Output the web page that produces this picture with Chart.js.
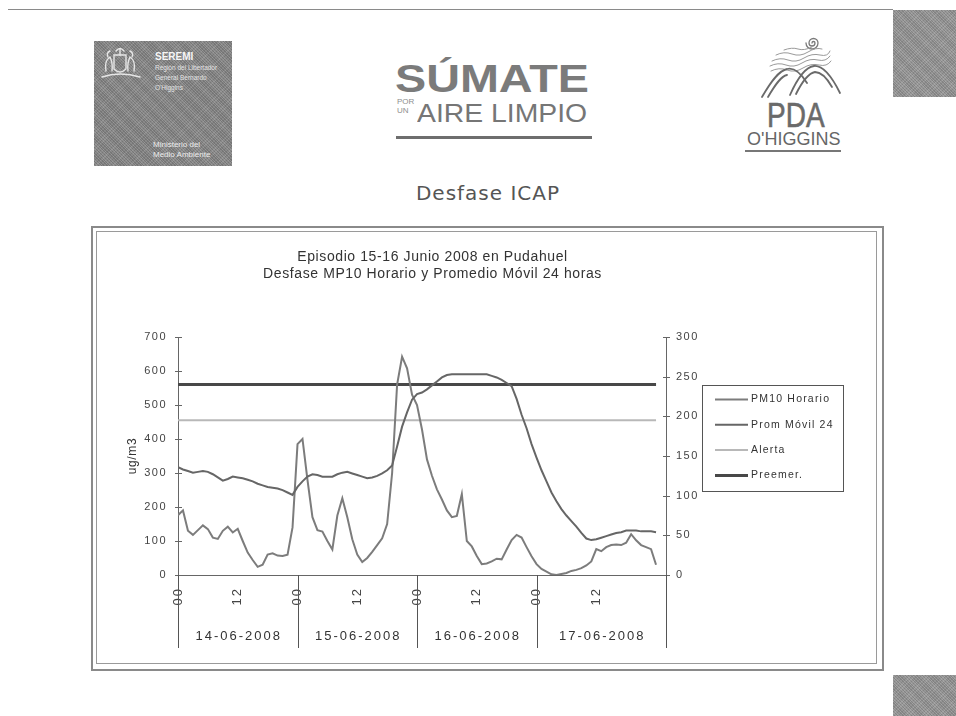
<!DOCTYPE html>
<html lang="es">
<head>
<meta charset="utf-8">
<title>Desfase ICAP</title>
<script src="https://cdn.jsdelivr.net/npm/chart.js@4.4.1/dist/chart.umd.min.js"></script>
<style>
html,body{margin:0;padding:0;background:#fff;}
body{width:956px;height:716px;position:relative;overflow:hidden;font-family:"Liberation Sans",Arial,sans-serif;}
.a{position:absolute;white-space:nowrap;}
#c{position:absolute;left:0;top:0;pointer-events:none;}
.gray{background-color:#959595;background-image:repeating-linear-gradient(45deg,rgba(255,255,255,.10) 0 1px,rgba(0,0,0,.07) 1px 2px),repeating-linear-gradient(-45deg,rgba(255,255,255,.06) 0 1px,rgba(0,0,0,.05) 1px 3px);}
</style>
</head>
<body>
<!-- slide border and corner blocks -->
<div class="a" style="left:8px;top:9px;width:885px;height:0;border-top:1px solid #8a8a8a"></div>
<div class="a gray" style="left:893px;top:10px;width:63px;height:87px"></div>
<div class="a gray" style="left:893px;top:675px;width:63px;height:41px"></div>

<!-- SEREMI logo -->
<div class="a gray" style="left:94px;top:41px;width:138px;height:125px;background-color:#868686"></div>
<svg class="a" style="left:94px;top:41px" width="60" height="50" viewBox="0 0 60 50">
  <g fill="none" stroke="#e6e6e6" stroke-width="1.4" stroke-linecap="round">
    <path d="M8,36 Q26,30 46,36"/>
    <path d="M20,14 L32,14 L32,28 Q26,34 20,28 Z"/>
    <path d="M26,8 L26,14 M22,10 Q26,5 30,10"/>
    <path d="M12,30 Q10,20 16,16 Q19,22 18,30"/>
    <path d="M40,30 Q42,20 36,16 Q33,22 34,30"/>
    <path d="M14,16 Q12,12 16,10 M38,16 Q40,12 36,10"/>
  </g>
</svg>
<div class="a" style="left:155px;top:51px;color:#f6f6f6;font:bold 10px/11px 'Liberation Sans';">SEREMI</div>
<div class="a" style="left:155px;top:63px;color:#e4e4e4;font:6.5px/10px 'Liberation Sans';">Región del Libertador<br>General Bernardo<br>O'Higgins</div>
<div class="a" style="left:153px;top:140px;color:#ececec;font:8px/10px 'Liberation Sans';">Ministerio del<br>Medio Ambiente</div>

<!-- SUMATE logo -->
<div class="a" style="left:395px;top:57px;font:bold 38px/44px 'Liberation Sans';color:#7b7b7b;transform:scaleX(1.23);transform-origin:0 0;">SÚMATE</div>
<div class="a" style="left:397px;top:97px;font:8px/9px 'Liberation Sans';color:#8e8e8e;">POR<br>UN</div>
<div class="a" style="left:417px;top:97.5px;font:26px/30px 'Liberation Sans';color:#767676;transform:scaleX(1.09);transform-origin:0 0;">AIRE LIMPIO</div>
<div class="a" style="left:396px;top:136px;width:196px;height:3px;background:#6e6e6e"></div>

<!-- PDA logo -->
<svg class="a" style="left:740px;top:25px" width="110" height="80" viewBox="0 0 110 80">
  <g fill="none" stroke="#7a7a7a" stroke-linecap="round">
    <path stroke-width="1.3" d="M73,18 m-1,0 a1.5,1.5 0 1,1 3,0 a3,3 0 1,1 -6,0 a4.5,4.5 0 1,1 9,0 a6,6 0 1,1 -12,0"/>
    <g stroke="#9a9a9a" stroke-width="1">
      <path d="M32,36 q8,-4 16,-1 t16,-2 t16,-3 t10,-4"/>
      <path d="M30,41 q8,-4 16,-1 t16,-2 t16,-3 t12,-4"/>
      <path d="M31,46 q8,-4 16,-1 t16,-2 t16,-3 t12,-4"/>
      <path d="M36,30 q8,-4 16,-1 t16,-2 t14,-3"/>
      <path d="M44,25 q8,-3 14,-1 t14,-2"/>
    </g>
    <g stroke="#6a6a6a" stroke-width="1.8">
      <path d="M22,72 C30,58 38,46 47,44 C55,42 62,50 67,58"/>
      <path d="M28,72 C35,60 41,51 47,50"/>
      <path d="M50,70 C58,52 66,42 74,41 C84,40 94,56 100,68"/>
      <path d="M56,69 C63,55 69,48 75,47 C82,47 88,55 92,62"/>
    </g>
  </g>
</svg>
<div class="a" style="left:767px;top:95px;font:35px/40px 'Liberation Sans';color:#6a6a6a;transform:scaleX(0.8);transform-origin:0 0;-webkit-text-stroke:0.6px #6a6a6a;">PDA</div>
<div class="a" style="left:747px;top:128.6px;font:18px/20px 'Liberation Sans';color:#666;">O'HIGGINS</div>
<div class="a" style="left:745px;top:150px;width:96px;height:2px;background:#777"></div>

<!-- slide heading -->
<div class="a" style="left:0;top:181px;width:976px;text-align:center;font:20px/24px 'DejaVu Sans';letter-spacing:1px;color:#555;">Desfase ICAP</div>

<!-- chart frame -->
<div class="a" style="left:91px;top:226px;width:793px;height:445px;box-sizing:border-box;border:2px solid #8a8a8a"></div>
<div class="a" style="left:96px;top:231px;width:781px;height:433px;box-sizing:border-box;border:1px solid #9a9a9a"></div>

<canvas id="c" width="956" height="716"></canvas>

<script>
// ---------- data ----------
const dias = ['14-06-2008', '15-06-2008', '16-06-2008', '17-06-2008'];
const diaLimites = [0, 24, 48, 72, 98];           // hour index of day boundaries (last = axis end)
const horaTicks = [0, 12, 24, 36, 48, 60, 72, 84];
const horaTickLabels = ['00', '12', '00', '12', '00', '12', '00', '12'];

// PM10 hourly (ug/m3), left axis, one value per hour from 14-06 00h
const pm10Horario = [
  176,190,130,118,132,146,135,110,106,130,142,125,
  136,100,66,44,24,30,60,64,57,56,60,140,
  385,400,280,170,132,128,100,75,175,226,170,105,
  60,38,50,68,88,108,150,300,560,642,608,530,
  500,428,340,292,252,222,190,170,174,238,100,84,
  56,32,34,40,48,46,75,103,118,110,82,55,
  32,18,10,2,0,3,6,12,15,20,28,40,
  76,70,82,88,90,88,95,120,102,88,82,76,
  30
];
// 24 h moving average (ug/m3), right axis
const promMovil24 = [
  136,133,131,129,130,131,130,127,123,119,121,124,
  123,122,120,118,115,113,111,110,109,107,104,101,
  111,118,124,127,126,124,124,124,127,129,130,128,
  126,124,122,123,125,128,132,138,162,187,205,221,
  228,230,234,239,244,249,252,253,253,253,253,253,
  253,253,253,251,249,246,242,238,222,202,185,165,
  148,132,118,104,93,83,75,68,61,53,46,44,
  45,47,49,51,53,54,56,56,56,55,55,55,
  54
];
const umbralHoras = [0, 96];
const alertaNivel = [195, 195];
const preemerNivel = [240, 240];

const ejeIzq = {min: 0, max: 700, step: 100};
const ejeDer = {min: 0, max: 300, step: 50};

const toXY = (arr, xs) => arr.map((v, i) => ({x: xs ? xs[i] : i, y: v}));

// ---------- plugins ----------
const spacingPlugin = {
  id: 'spacing',
  beforeDraw(chart) { chart.ctx.letterSpacing = '0.6px'; },
  afterUpdate(chart) {
    for (const id of Object.keys(chart.scales)) {
      const s = chart.scales[id];
      if (s._wrappedLabels) continue;
      const orig = s.drawLabels.bind(s);
      const sp = id === 'x' ? '2px' : '1.5px';
      s.drawLabels = function (area) {
        const ctx = this.ctx; const prev = ctx.letterSpacing;
        ctx.letterSpacing = sp; orig(area); ctx.letterSpacing = prev;
      };
      s._wrappedLabels = true;
    }
  }
};

const axisDecor = {
  id: 'axisDecor',
  afterDraw(chart) {
    const {ctx, chartArea: ca, scales: {x, y, y1}} = chart;
    ctx.save();
    ctx.strokeStyle = '#666'; ctx.lineWidth = 1;
    y.ticks.forEach(t => {
      const py = Math.round(y.getPixelForValue(t.value)) + 0.5;
      ctx.beginPath(); ctx.moveTo(ca.left - 3, py); ctx.lineTo(ca.left + 4, py); ctx.stroke();
    });
    y1.ticks.forEach(t => {
      const py = Math.round(y1.getPixelForValue(t.value)) + 0.5;
      ctx.beginPath(); ctx.moveTo(ca.right - 3, py); ctx.lineTo(ca.right + 4, py); ctx.stroke();
    });
    ctx.strokeStyle = '#555';
    diaLimites.forEach(h => {
      const px = Math.round(x.getPixelForValue(h)) + 0.5;
      ctx.beginPath(); ctx.moveTo(px, ca.bottom); ctx.lineTo(px, ca.bottom + 73); ctx.stroke();
    });
    ctx.fillStyle = '#333';
    ctx.font = '13px "Liberation Sans", Arial, sans-serif';
    ctx.letterSpacing = '2px';
    ctx.textAlign = 'center'; ctx.textBaseline = 'middle';
    dias.forEach((d, i) => {
      const cx = (x.getPixelForValue(diaLimites[i]) + x.getPixelForValue(diaLimites[i + 1])) / 2;
      ctx.fillText(d, cx + 1, ca.bottom + 61);
    });
    ctx.restore();
  }
};

const boxLegend = {
  id: 'boxLegend',
  afterDraw(chart) {
    const ctx = chart.ctx;
    const x0 = 702, y0 = 385, w = 141, h = 106;
    ctx.save();
    ctx.letterSpacing = '0px';
    ctx.strokeStyle = '#555'; ctx.lineWidth = 1;
    ctx.strokeRect(x0 + 0.5, y0 + 0.5, w, h);
    ctx.font = '10.5px "Liberation Sans", Arial, sans-serif';
    ctx.textBaseline = 'middle'; ctx.textAlign = 'left';
    chart.data.datasets.forEach((ds, i) => {
      const yy = y0 + 14.5 + i * 25.3;
      ctx.strokeStyle = ds.borderColor; ctx.lineWidth = ds.borderWidth;
      ctx.beginPath(); ctx.moveTo(x0 + 13, yy); ctx.lineTo(x0 + 46, yy); ctx.stroke();
      ctx.fillStyle = '#333';
      ctx.letterSpacing = '1.2px';
      ctx.fillText(ds.label, x0 + 49, yy);
    });
    ctx.restore();
  }
};

Chart.defaults.font.family = '"Liberation Sans", Arial, sans-serif';
Chart.defaults.color = '#444';

new Chart(document.getElementById('c'), {
  type: 'line',
  data: {
    datasets: [
      {label: 'PM10 Horario', data: toXY(pm10Horario), yAxisID: 'y', borderColor: '#7c7c7c', borderWidth: 2, pointRadius: 0, tension: 0, order: 2},
      {label: 'Prom Móvil 24', data: toXY(promMovil24), yAxisID: 'y1', borderColor: '#666666', borderWidth: 2, pointRadius: 0, tension: 0, order: 1},
      {label: 'Alerta', data: toXY(alertaNivel, umbralHoras), yAxisID: 'y1', borderColor: '#b8b8b8', borderWidth: 2, pointRadius: 0, order: 4},
      {label: 'Preemer.', data: toXY(preemerNivel, umbralHoras), yAxisID: 'y1', borderColor: '#484848', borderWidth: 3, pointRadius: 0, order: 3}
    ]
  },
  options: {
    responsive: false,
    animation: false,
    devicePixelRatio: 1,
    layout: {padding: {left: 96, right: 187, top: 0, bottom: 61}},
    plugins: {
      legend: {display: false},
      tooltip: {enabled: false},
      title: {
        display: true,
        text: ['Episodio 15-16 Junio 2008 en Pudahuel', 'Desfase MP10 Horario y Promedio Móvil 24 horas'],
        color: '#333',
        font: {size: 14, weight: 'normal', lineHeight: 17 / 14},
        padding: {top: 249, bottom: 54}
      }
    },
    scales: {
      x: {
        type: 'linear', min: 0, max: diaLimites[diaLimites.length - 1],
        afterBuildTicks: s => { s.ticks = horaTicks.map(v => ({value: v})); },
        afterFit: s => { s.height = 80; },
        grid: {display: false, drawTicks: false},
        border: {display: true, color: '#666', width: 1},
        ticks: {
          autoSkip: false, minRotation: 90, maxRotation: 90, padding: 12,
          font: {size: 13}, color: '#444',
          callback: (v, i) => horaTickLabels[i]
        }
      },
      y: {
        type: 'linear', position: 'left', min: ejeIzq.min, max: ejeIzq.max,
        afterFit: s => { s.width = 82; },
        grid: {display: false, drawTicks: false},
        border: {display: true, color: '#666', width: 1},
        ticks: {stepSize: ejeIzq.step, padding: 11, font: {size: 11}, color: '#444'},
        title: {display: true, text: 'ug/m3', color: '#333', font: {size: 12}, padding: {top: 29, bottom: 0}}
      },
      y1: {
        type: 'linear', position: 'right', min: ejeDer.min, max: ejeDer.max,
        afterFit: s => { s.width = 103; },
        grid: {display: false, drawTicks: false},
        border: {display: true, color: '#666', width: 1},
        ticks: {stepSize: ejeDer.step, padding: 10, font: {size: 11}, color: '#444'}
      }
    }
  },
  plugins: [spacingPlugin, axisDecor, boxLegend]
});
</script>
</body>
</html>
